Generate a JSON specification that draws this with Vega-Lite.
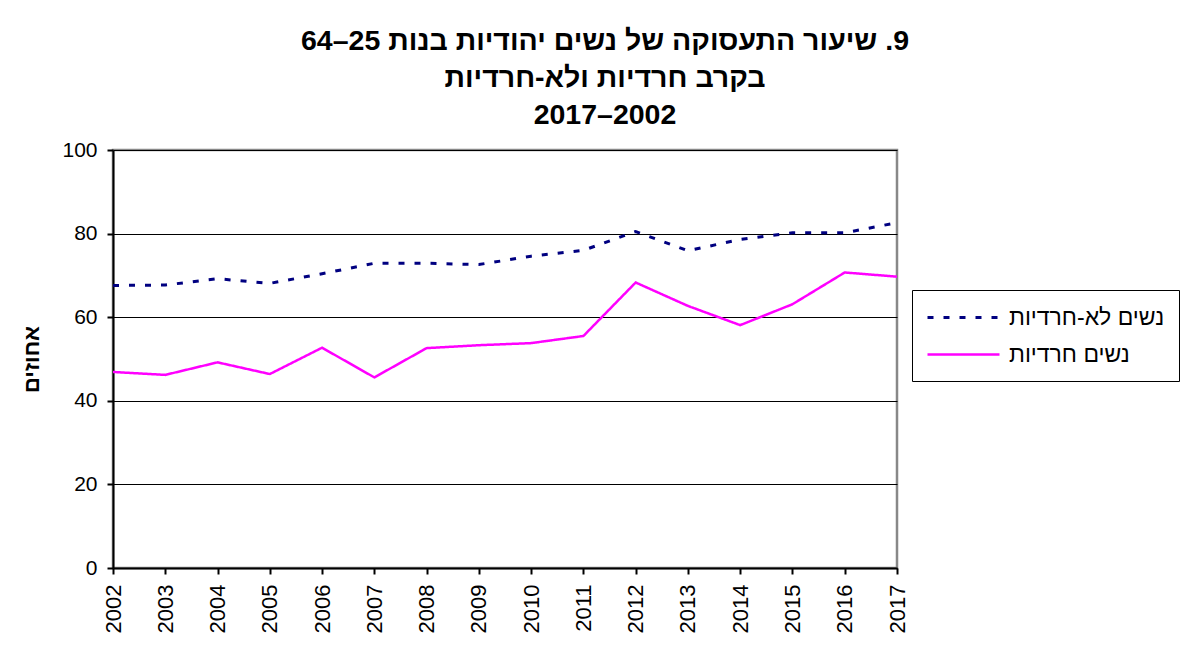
{
  "$schema": "https://vega.github.io/schema/vega-lite/v6.json",
  "width": 784,
  "height": 418,
  "autosize": {"type": "none"},
  "padding": {"left": 113, "top": 150, "right": 291, "bottom": 78},
  "background": "white",
  "title": {
    "text": ["\u200F9. שיעור התעסוקה של נשים יהודיות בנות 25–64", "בקרב חרדיות ולא-חרדיות", "2017–2002"],
    "anchor": "middle",
    "frame": "group",
    "dx": 100,
    "offset": 10,
    "font": "Liberation Sans",
    "fontSize": 28.5,
    "fontWeight": "bold",
    "lineHeight": 37,
    "color": "black"
  },
  "config": {
    "view": {"stroke": "#888888", "strokeWidth": 2.5},
    "font": "Liberation Sans",
    "axis": {
      "labelFont": "Liberation Sans",
      "labelColor": "black",
      "domainColor": "black",
      "domainWidth": 2,
      "tickColor": "black",
      "tickWidth": 2,
      "tickSize": 6,
      "labelFontSize": 21,
      "gridColor": "black",
      "gridWidth": 1,
      "titleFont": "Liberation Sans"
    }
  },
  "data": {
    "values": [
      {"year": 2002, "series": "נשים לא-חרדיות", "value": 67.6},
      {"year": 2003, "series": "נשים לא-חרדיות", "value": 67.7},
      {"year": 2004, "series": "נשים לא-חרדיות", "value": 69.2},
      {"year": 2005, "series": "נשים לא-חרדיות", "value": 68.1},
      {"year": 2006, "series": "נשים לא-חרדיות", "value": 70.4},
      {"year": 2007, "series": "נשים לא-חרדיות", "value": 72.9},
      {"year": 2008, "series": "נשים לא-חרדיות", "value": 72.9},
      {"year": 2009, "series": "נשים לא-חרדיות", "value": 72.6},
      {"year": 2010, "series": "נשים לא-חרדיות", "value": 74.6},
      {"year": 2011, "series": "נשים לא-חרדיות", "value": 76.0},
      {"year": 2012, "series": "נשים לא-חרדיות", "value": 80.5},
      {"year": 2013, "series": "נשים לא-חרדיות", "value": 75.9},
      {"year": 2014, "series": "נשים לא-חרדיות", "value": 78.6},
      {"year": 2015, "series": "נשים לא-חרדיות", "value": 80.2},
      {"year": 2016, "series": "נשים לא-חרדיות", "value": 80.2},
      {"year": 2017, "series": "נשים לא-חרדיות", "value": 82.6},
      {"year": 2002, "series": "נשים חרדיות", "value": 46.9},
      {"year": 2003, "series": "נשים חרדיות", "value": 46.2},
      {"year": 2004, "series": "נשים חרדיות", "value": 49.2},
      {"year": 2005, "series": "נשים חרדיות", "value": 46.4},
      {"year": 2006, "series": "נשים חרדיות", "value": 52.7},
      {"year": 2007, "series": "נשים חרדיות", "value": 45.6},
      {"year": 2008, "series": "נשים חרדיות", "value": 52.6},
      {"year": 2009, "series": "נשים חרדיות", "value": 53.3},
      {"year": 2010, "series": "נשים חרדיות", "value": 53.8},
      {"year": 2011, "series": "נשים חרדיות", "value": 55.5},
      {"year": 2012, "series": "נשים חרדיות", "value": 68.3},
      {"year": 2013, "series": "נשים חרדיות", "value": 62.7},
      {"year": 2014, "series": "נשים חרדיות", "value": 58.1},
      {"year": 2015, "series": "נשים חרדיות", "value": 63.1},
      {"year": 2016, "series": "נשים חרדיות", "value": 70.7},
      {"year": 2017, "series": "נשים חרדיות", "value": 69.7}
    ]
  },
  "mark": {"type": "line", "strokeCap": "butt", "clip": false},
  "encoding": {
    "x": {
      "field": "year",
      "type": "quantitative",
      "scale": {"domain": [2002, 2017], "nice": false, "zero": false},
      "axis": {
        "title": null,
        "values": [2002, 2003, 2004, 2005, 2006, 2007, 2008, 2009, 2010, 2011, 2012, 2013, 2014, 2015, 2016, 2017],
        "format": "d",
        "labelAngle": -90,
        "grid": false,
        "labelFontSize": 22,
        "labelPadding": 10
      }
    },
    "y": {
      "field": "value",
      "type": "quantitative",
      "scale": {"domain": [0, 100], "nice": false},
      "axis": {
        "title": "אחוזים",
        "titleFontSize": 22,
        "titleFontWeight": "bold",
        "titleColor": "black",
        "titlePadding": 18,
        "values": [0, 20, 40, 60, 80, 100],
        "grid": true,
        "labelPadding": 10
      }
    },
    "color": {
      "field": "series",
      "type": "nominal",
      "scale": {"domain": ["נשים לא-חרדיות", "נשים חרדיות"], "range": ["#000080", "#FF00FF"]},
      "legend": {
        "title": null,
        "orient": "none",
        "legendX": 799,
        "legendY": 140,
        "strokeColor": "black",
        "fillColor": "white",
        "padding": 14,
        "labelFont": "Liberation Sans",
        "labelFontSize": 23,
        "labelColor": "black",
        "symbolType": "M-1,0H5",
        "symbolSize": 576,
        "symbolStrokeWidth": 3,
        "labelOffset": 56,
        "rowPadding": 11
      }
    },
    "strokeDash": {
      "field": "series",
      "type": "nominal",
      "scale": {"domain": ["נשים לא-חרדיות", "נשים חרדיות"], "range": [[6, 10], [1, 0]]},
      "legend": null
    },
    "strokeWidth": {
      "field": "series",
      "type": "nominal",
      "scale": {"domain": ["נשים לא-חרדיות", "נשים חרדיות"], "range": [3, 2.5]},
      "legend": null
    }
  }
}
